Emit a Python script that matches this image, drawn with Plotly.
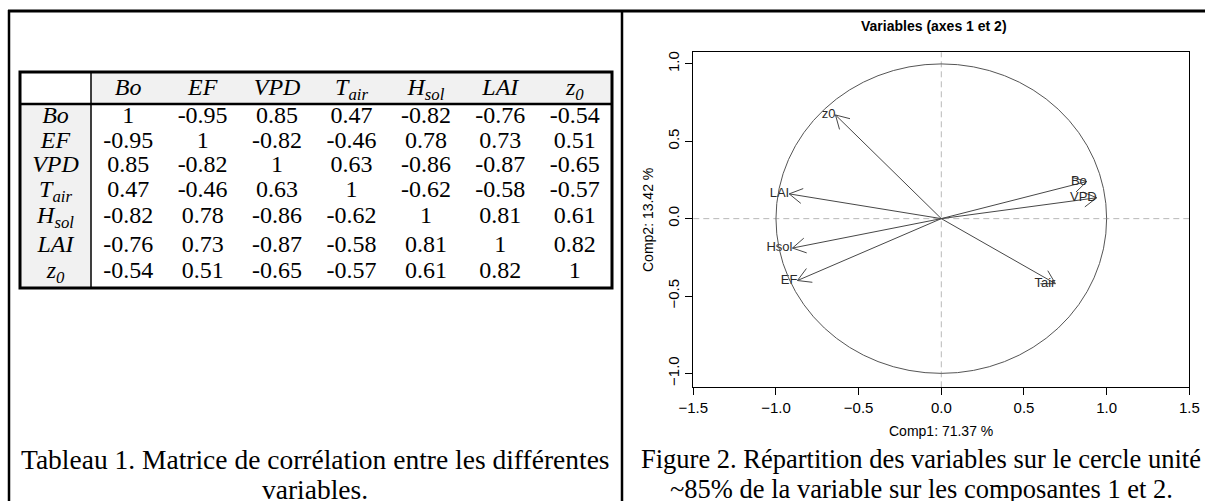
import math
import plotly.graph_objects as go

W, H = 1205, 501

# ---------------- data: correlation table ----------------
var_names = ["Bo", "EF", "VPD", "Tair", "Hsol", "LAI", "z0"]
var_html = ["<i>Bo</i>", "<i>EF</i>", "<i>VPD</i>", "<i>T<sub>air</sub></i>",
            "<i>H<sub>sol</sub></i>", "<i>LAI</i>", "<i>z<sub>0</sub></i>"]
corr_Bo = [1, -0.95, 0.85, 0.47, -0.82, -0.76, -0.54]
corr_EF = [-0.95, 1, -0.82, -0.46, 0.78, 0.73, 0.51]
corr_VPD = [0.85, -0.82, 1, 0.63, -0.86, -0.87, -0.65]
corr_Tair = [0.47, -0.46, 0.63, 1, -0.62, -0.58, -0.57]
corr_Hsol = [-0.82, 0.78, -0.86, -0.62, 1, 0.81, 0.61]
corr_LAI = [-0.76, 0.73, -0.87, -0.58, 0.81, 1, 0.82]
corr_z0 = [-0.54, 0.51, -0.65, -0.57, 0.61, 0.82, 1]
corr_rows = [corr_Bo, corr_EF, corr_VPD, corr_Tair, corr_Hsol, corr_LAI, corr_z0]

# ---------------- data: PCA correlation circle ----------------
pca_labels = ["Bo", "EF", "VPD", "Tair", "Hsol", "LAI", "z0"]
comp1 = [0.88, -0.87, 0.94, 0.69, -0.90, -0.92, -0.64]
comp2 = [0.24, -0.40, 0.135, -0.42, -0.19, 0.16, 0.67]
x_ticks = [-1.5, -1.0, -0.5, 0.0, 0.5, 1.0, 1.5]
y_ticks = [-1.0, -0.5, 0.0, 0.5, 1.0]
pca_title = "Variables (axes 1 et 2)"
x_title = "Comp1: 71.37 %"
y_title = "Comp2: 13.42 %"
caption_left = ["Tableau 1. Matrice de corrélation entre les différentes", "variables."]
caption_right = ["Figure 2. Répartition des variables sur le cercle unité",
                 "~85% de la variable sur les composantes 1 et 2."]

# ---------------- layout constants (pixels) ----------------
PLOT_L, PLOT_R, PLOT_T, PLOT_B = 693.3, 1189.3, 52.3, 387.3
X_RANGE = [-1.5, 1.5]
Y_RANGE = [-1.090, 1.075]
TBL_L, TBL_R, TBL_T, HDR_B, TBL_B, COL0_R = 20, 612, 72, 104, 288, 91
HDR_Y = 89
ROW_Y = [117, 142, 166, 191, 217, 246, 272]
SERIF = "Liberation Serif"
SANS = "Liberation Sans"
TFONT = 24
CFONT_L = 27.5
CFONT_R = 26.5

fig = go.Figure()

# ---------- PCA arrows ----------
sx = (PLOT_R - PLOT_L) / (X_RANGE[1] - X_RANGE[0])
sy = (PLOT_B - PLOT_T) / (Y_RANGE[1] - Y_RANGE[0])
BARB, ANG = 15.0, math.radians(30)
arrow_col = "#474747"
for name, x, y in zip(pca_labels, comp1, comp2):
    dx, dy = -x * sx, -y * sy
    n = math.hypot(dx, dy)
    ux, uy = dx / n, dy / n
    bx, by = [], []
    for a in (ANG, -ANG):
        rx = ux * math.cos(a) - uy * math.sin(a)
        ry = ux * math.sin(a) + uy * math.cos(a)
        bx.append(x + rx * BARB / sx)
        by.append(y + ry * BARB / sy)
    fig.add_trace(go.Scatter(
        x=[0, x, None, bx[0], x, bx[1]], y=[0, y, None, by[0], y, by[1]],
        mode="lines", line=dict(color=arrow_col, width=1),
        hoverinfo="skip", showlegend=False, xaxis="x", yaxis="y"))
fig.add_trace(go.Scatter(
    x=comp1, y=comp2, text=pca_labels, mode="text", textposition="middle left",
    textfont=dict(family=SANS, size=13, color="#2a2a2a"),
    hoverinfo="skip", showlegend=False, xaxis="x", yaxis="y"))

# ---------- Table text ----------
ncol = len(var_names)
col_w = (TBL_R - COL0_R) / ncol
col_x = [COL0_R + (i + 0.5) * col_w for i in range(ncol)]
row_lab_x = (TBL_L + COL0_R) / 2


def fmt(v):
    return "1" if v == 1 else f"{v:.2f}"


fig.add_trace(go.Scatter(
    x=col_x, y=[HDR_Y] * ncol, text=var_html, mode="text",
    textfont=dict(family=SERIF, size=TFONT, color="black"),
    hoverinfo="skip", showlegend=False, xaxis="x2", yaxis="y2"))
fig.add_trace(go.Scatter(
    x=[row_lab_x] * ncol, y=ROW_Y, text=var_html, mode="text",
    textfont=dict(family=SERIF, size=TFONT, color="black"),
    hoverinfo="skip", showlegend=False, xaxis="x2", yaxis="y2"))
for r, row in enumerate(corr_rows):
    fig.add_trace(go.Scatter(
        x=col_x, y=[ROW_Y[r]] * ncol, text=[fmt(v) for v in row], mode="text",
        textfont=dict(family=SERIF, size=TFONT, color="black"),
        hoverinfo="skip", showlegend=False, xaxis="x2", yaxis="y2"))

shapes = []
# table fills
shapes.append(dict(type="rect", xref="x2", yref="y2", x0=COL0_R, x1=TBL_R, y0=TBL_T, y1=HDR_B,
                   fillcolor="#f1f1f1", line=dict(width=0), layer="below"))
shapes.append(dict(type="rect", xref="x2", yref="y2", x0=TBL_L, x1=COL0_R, y0=HDR_B, y1=TBL_B,
                   fillcolor="#f1f1f1", line=dict(width=0), layer="below"))
# table lines
shapes.append(dict(type="line", xref="x2", yref="y2", x0=COL0_R, x1=COL0_R, y0=TBL_T, y1=TBL_B,
                   line=dict(color="black", width=1.5)))
shapes.append(dict(type="line", xref="x2", yref="y2", x0=TBL_L, x1=TBL_R, y0=HDR_B, y1=HDR_B,
                   line=dict(color="black", width=2.5)))
shapes.append(dict(type="rect", xref="x2", yref="y2", x0=TBL_L, x1=TBL_R, y0=TBL_T, y1=TBL_B,
                   line=dict(color="black", width=3)))
# outer frame
shapes.append(dict(type="line", xref="x2", yref="y2", x0=8, x1=W, y0=11, y1=11,
                   line=dict(color="black", width=3)))
shapes.append(dict(type="line", xref="x2", yref="y2", x0=9, x1=9, y0=10, y1=H,
                   line=dict(color="black", width=2.5)))
shapes.append(dict(type="line", xref="x2", yref="y2", x0=622, x1=622, y0=10, y1=H,
                   line=dict(color="black", width=2.5)))
# PCA: unit circle and dashed axes
shapes.append(dict(type="circle", xref="x", yref="y", x0=-1, x1=1, y0=-1, y1=1,
                   line=dict(color="#555555", width=1)))
shapes.append(dict(type="line", xref="x", yref="y domain", x0=0, x1=0, y0=0, y1=1,
                   line=dict(color="#b8b8b8", width=1, dash="6px,4px"), layer="below"))
shapes.append(dict(type="line", xref="x domain", yref="y", x0=0, x1=1, y0=0, y1=0,
                   line=dict(color="#b8b8b8", width=1, dash="6px,4px"), layer="below"))

annotations = []


def ann(text, x, y, size, family, **kw):
    d = dict(text=text, x=x / W, y=1 - y / H, xref="paper", yref="paper",
             showarrow=False, xanchor="center", yanchor="middle",
             font=dict(family=family, size=size, color="black"))
    d.update(kw)
    annotations.append(d)


ann("<b>" + pca_title + "</b>", 934, 26, 14, SANS)
ann(x_title, 941, 431, 14, SANS)
ann(y_title, 648, 220, 14, SANS, textangle=-90)
ann(caption_left[0], 315, 459, CFONT_L, SERIF)
ann(caption_left[1], 315, 489, CFONT_L, SERIF)
ann(caption_right[0], 921, 459, CFONT_R, SERIF)
ann(caption_right[1], 922, 489, CFONT_R, SERIF)

fig.update_layout(
    width=W, height=H, margin=dict(l=0, r=0, t=0, b=0, pad=0, autoexpand=False),
    paper_bgcolor="white", plot_bgcolor="rgba(0,0,0,0)",
    showlegend=False, shapes=shapes, annotations=annotations,
    xaxis=dict(domain=[PLOT_L / W, PLOT_R / W], range=X_RANGE, tickvals=x_ticks,
               tickformat=".1f", ticks="outside", ticklen=7, tickcolor="black",
               showline=True, linecolor="black", linewidth=1, mirror=True,
               showgrid=False, zeroline=False, anchor="y", automargin=False,
               tickfont=dict(family=SANS, size=15, color="black")),
    yaxis=dict(domain=[1 - PLOT_B / H, 1 - PLOT_T / H], range=Y_RANGE, tickvals=y_ticks,
               tickformat=".1f", ticks="outside", ticklen=7, tickcolor="black",
               showline=True, linecolor="black", linewidth=1, mirror=True,
               showgrid=False, zeroline=False, anchor="x", tickangle=-90, automargin=False,
               tickfont=dict(family=SANS, size=15, color="black")),
    xaxis2=dict(domain=[0, 1], range=[0, W], visible=False, anchor="y2",
                showgrid=False, zeroline=False, automargin=False),
    yaxis2=dict(domain=[0, 1], range=[H, 0], visible=False, anchor="x2",
                showgrid=False, zeroline=False, automargin=False),
)

fig.write_html(
    "out.html",
    config={"displayModeBar": False, "staticPlot": True},
    post_script="document.body.style.margin='0';document.body.style.overflow='hidden';",
)
